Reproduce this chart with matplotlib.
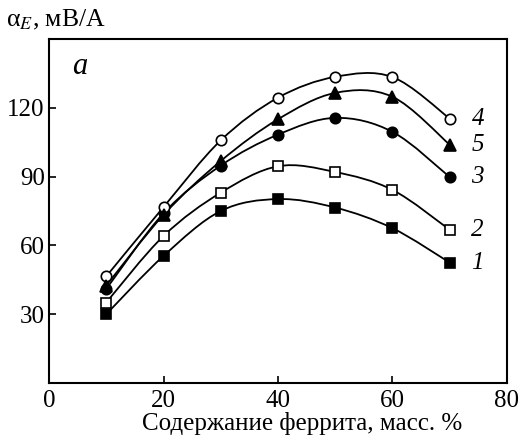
import numpy as np
import matplotlib
matplotlib.use('Agg')
import matplotlib.pyplot as plt
from matplotlib.path import Path
from matplotlib.patches import PathPatch

plt.rcParams['font.family'] = ['Liberation Serif', 'DejaVu Serif']
plt.rcParams['mathtext.fontset'] = 'stix'

# ferrite content, mass %
x = [10, 20, 30, 40, 50, 60, 70]

y1 = [30.0, 55.4, 75.0, 80.2, 76.5, 67.5, 52.5]
y2 = [35.1, 64.1, 83.0, 94.5, 92.0, 84.2, 66.8]
y3 = [41.0, 74.0, 94.8, 108.3, 115.6, 109.5, 89.8]
y4 = [46.5, 76.7, 105.8, 124.4, 133.5, 133.4, 115.3]
y5 = [42.5, 73.3, 96.8, 115.0, 126.5, 124.8, 103.9]

labels = ['1', '2', '3', '4', '5']
markers = ['s', 's', 'o', 'o', '^']
filled = [True, False, True, False, True]


def smooth_path(xs, ys):
    # catmull-rom through the points, drawn as bezier segments
    p = np.column_stack([xs, ys]).astype(float)
    verts = [p[0]]
    codes = [Path.MOVETO]
    n = len(p)
    for i in range(n - 1):
        p0 = p[i - 1] if i > 0 else p[i]
        p3 = p[i + 2] if i + 2 < n else p[i + 1]
        c1 = p[i] + (p[i + 1] - p0) / 6.0
        c2 = p[i + 1] - (p3 - p[i]) / 6.0
        verts += [c1, c2, p[i + 1]]
        codes += [Path.CURVE4] * 3
    return Path(verts, codes)


fig = plt.figure(figsize=(5.27, 4.43), dpi=100)
ax = fig.add_axes([0.093, 0.1354, 0.869, 0.7766])

for ys, lab, m, f in zip([y1, y2, y3, y4, y5], labels, markers, filled):
    ax.add_patch(PathPatch(smooth_path(x, ys), fill=False, lw=1.3, ec='black', zorder=2))
    ax.plot(x, ys, ls='none', marker=m, ms=7.5 if m != '^' else 8.5,
            mfc='black' if f else 'white', mec='black', mew=1.2, zorder=3)
    ax.text(x[-1] + 3.8, ys[-1], lab, fontsize=18, style='italic',
            ha='left', va='center')

ax.set_xlim(0, 80)
ax.set_ylim(0, 150)
ax.set_xticks([0, 20, 40, 60, 80])
ax.set_yticks([30, 60, 90, 120])
ax.tick_params(direction='in', length=5, width=1.2, labelsize=18, pad=3)
ax.tick_params(axis='x', pad=5)
for s in ax.spines.values():
    s.set_linewidth(1.5)

ax.text(0.05, 0.92, 'a', transform=ax.transAxes, fontsize=22, style='italic',
        ha='left', va='center')
ax.set_xlabel('Содержание феррита, масс. %', fontsize=18, labelpad=1)
ax.xaxis.set_label_coords(0.553, -0.085)
fig.text(0.012, 0.955, 'α$_{E}$, мВ/А', fontsize=18.5, ha='left', va='center')

fig.savefig('out.png', dpi=100)
